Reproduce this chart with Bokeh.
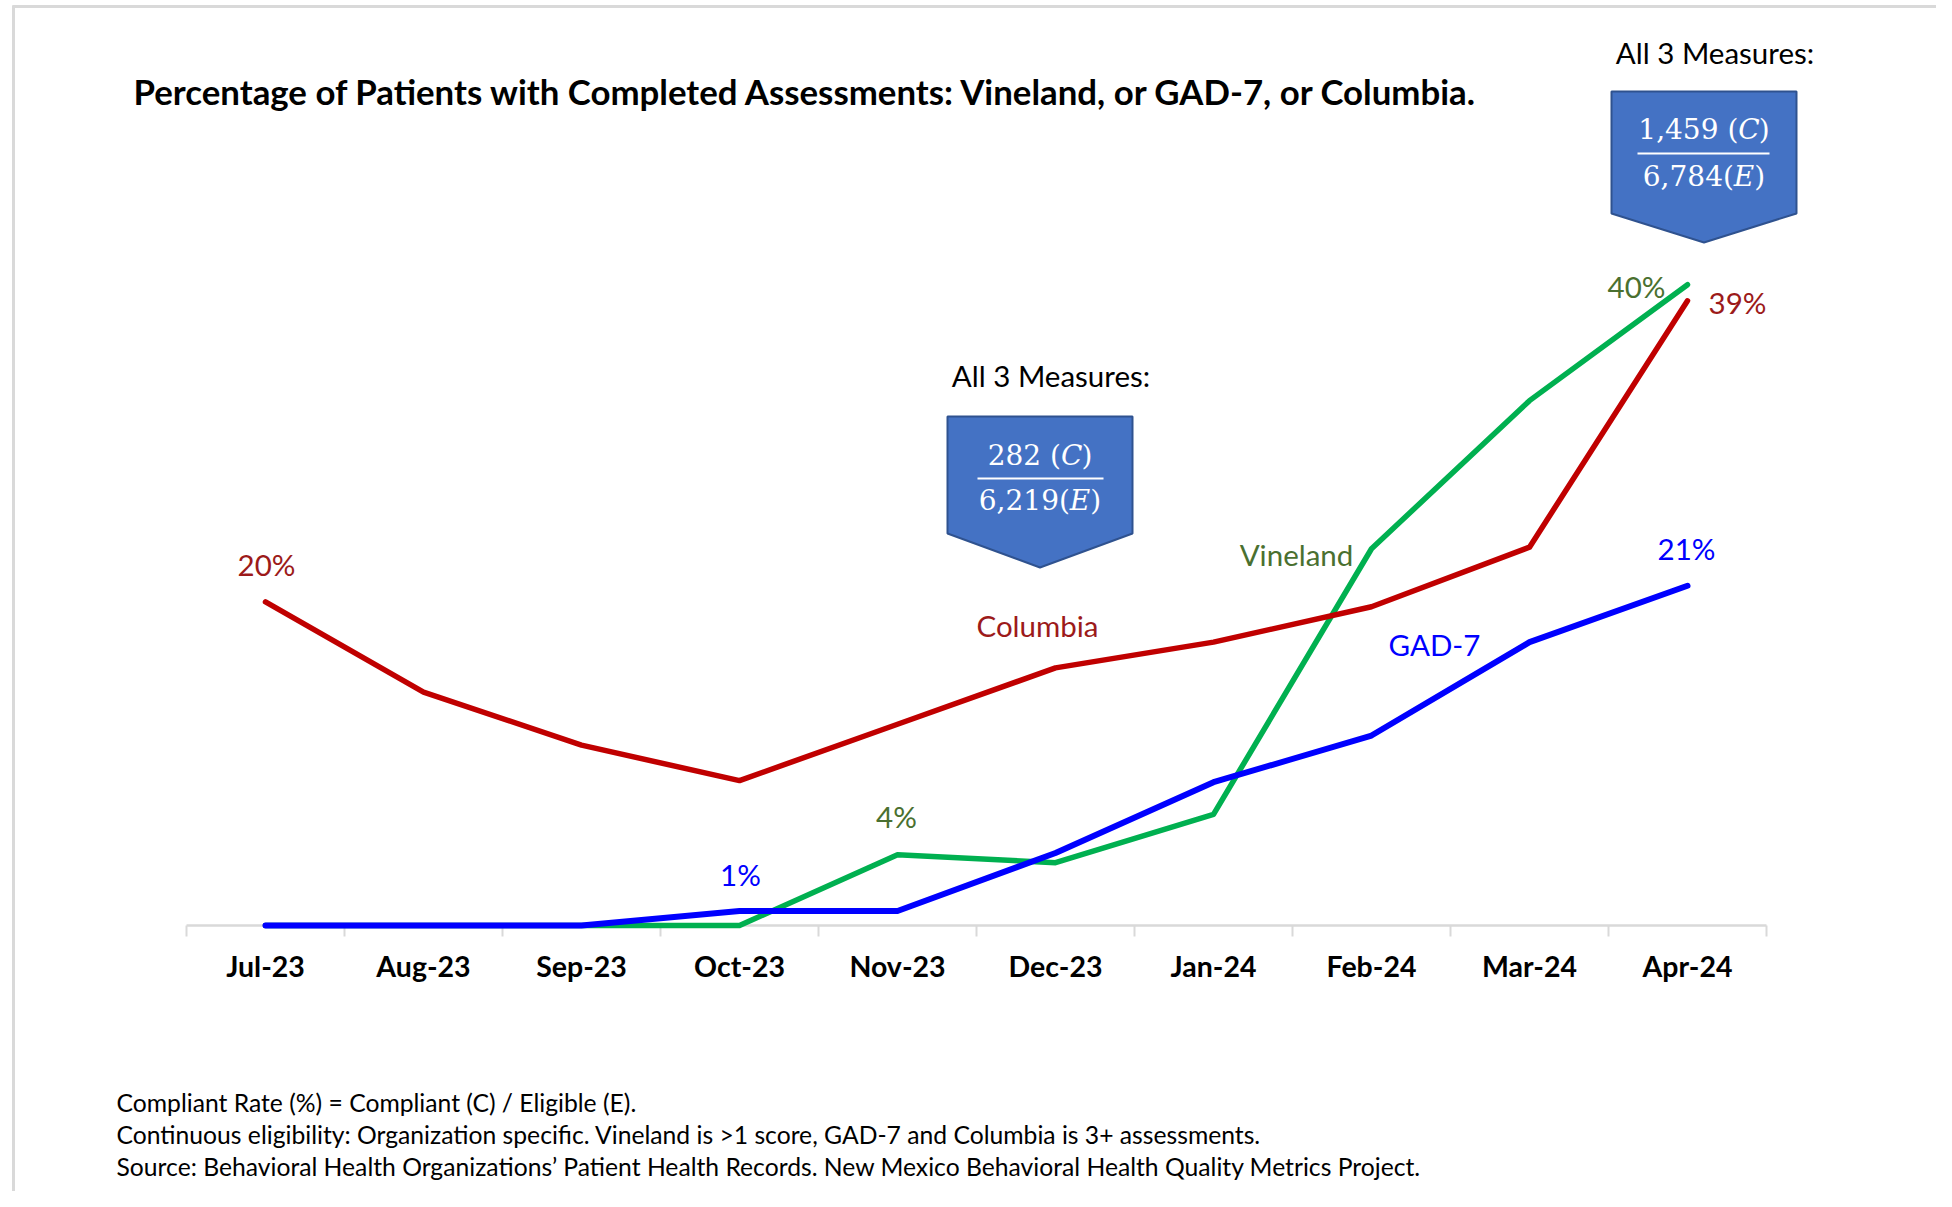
from bokeh.plotting import figure
from bokeh.models import Range1d, FactorRange, ColumnDataSource
from bokeh.core.properties import value
from bokeh.embed import file_html
from bokeh.resources import INLINE

# ---------------- data ----------------
months = ["Jul-23", "Aug-23", "Sep-23", "Oct-23", "Nov-23",
          "Dec-23", "Jan-24", "Feb-24", "Mar-24", "Apr-24"]
columbia = [20.1, 14.5, 11.2, 9.0, 12.5, 16.0, 17.6, 19.8, 23.5, 38.8]
vineland = [0.0, 0.0, 0.0, 0.0, 4.4, 3.9, 6.9, 23.4, 32.6, 39.8]
gad7 = [0.0, 0.0, 0.0, 0.9, 0.9, 4.5, 8.9, 11.8, 17.6, 21.1]

title_text = "Percentage of Patients with Completed Assessments: Vineland, or GAD-7, or Columbia."
callout_title = "All 3 Measures:"
callout_mid = ("282", "6,219")
callout_top = ("1,459", "6,784")
footnotes = [
    "Compliant Rate (%) = Compliant (C) / Eligible (E).",
    "Continuous eligibility: Organization specific. Vineland is >1 score, GAD-7 and Columbia is 3+ assessments.",
    "Source: Behavioral Health Organizations\u2019 Patient Health Records. New Mexico Behavioral Health Quality Metrics Project.",
]

# ---------------- layout ----------------
W, H = 1936, 1191
LEFT_BORDER = 16        # canvas x where the plotting frame starts
CAT_PX = 158.0          # pixels per category
PCT_PX = 16.1           # pixels per percentage point
BASE_Y = 925            # canvas y of the 0 line
n = len(months)
X0 = 186.0              # canvas x of the left edge of the first category
pad = (X0 - LEFT_BORDER) / CAT_PX

ymax = BASE_Y / PCT_PX
ymin = ymax - H / PCT_PX

def sx(px):
    return (px - X0) / CAT_PX

def sy(py):
    return (BASE_Y - py) / PCT_PX

p = figure(width=W, height=H, output_backend="svg", toolbar_location=None,
           x_range=FactorRange(factors=months, range_padding=pad, range_padding_units="absolute"),
           y_range=Range1d(ymin, ymax),
           x_axis_location=None, y_axis_location=None,
           min_border=0, min_border_left=LEFT_BORDER,
           background_fill_color="white", border_fill_color="white")
p.outline_line_color = None
p.grid.visible = False

SANS = value("Lato")
SERIF = value("DejaVu Serif")

RED, RED_T = "#C00000", "#9C1A1A"
GREEN, GREEN_T = "#00B050", "#4A7030"
BLUE, BLUE_T = "#0000FF", "#0000FF"
GRAY = "#D9D9D9"

# frame border (light gray)
p.segment(x0=[sx(12)], y0=[sy(6)], x1=[sx(1960)], y1=[sy(6)], line_color=GRAY, line_width=3,
          level="overlay")
p.segment(x0=[sx(13)], y0=[sy(5)], x1=[sx(13)], y1=[sy(1210)], line_color=GRAY, line_width=3,
          level="overlay")

# category axis
p.segment(x0=[0], y0=[0], x1=[n], y1=[0], line_color=GRAY, line_width=2.5)
bounds = list(range(n + 1))
p.segment(x0=bounds, y0=[0] * (n + 1), x1=bounds, y1=[-11 / PCT_PX] * (n + 1),
          line_color=GRAY, line_width=2)
p.text(x=months, y=[0] * n, text=months, y_offset=40, text_align="center",
       text_baseline="middle", text_font=SANS, text_font_size="28.5px",
       text_font_style="bold", text_color="black")

# series
src = ColumnDataSource(dict(m=months, col=columbia, vin=vineland, gad=gad7))
p.line(x="m", y="vin", source=src, line_color=GREEN, line_width=5.5, line_join="round", line_cap="round")
p.line(x="m", y="col", source=src, line_color=RED, line_width=5.5, line_join="round", line_cap="round")
p.line(x="m", y="gad", source=src, line_color=BLUE, line_width=6, line_join="round", line_cap="round")

LBL = "29.5px"

def dlabel(series, idx, color, dx, dy):
    p.text(x=[months[idx]], y=[series[idx]], text=["%.0f%%" % series[idx]],
           x_offset=dx, y_offset=dy, text_align="center", text_baseline="middle",
           text_font=SANS, text_font_size=LBL, text_color=color)

dlabel(columbia, 0, RED_T, 1, -37)
dlabel(columbia, 9, RED_T, 50, 2)
dlabel(vineland, 9, GREEN_T, -51, 2)
dlabel(vineland, 4, GREEN_T, -1, -38)
dlabel(gad7, 3, BLUE_T, 1, -37)
dlabel(gad7, 9, BLUE_T, -1, -37)

def free_text(px, py, txt, color="black", size=LBL, align="center", style="normal", font=SANS):
    p.text(x=[sx(px)], y=[sy(py)], text=[txt], text_align=align, text_baseline="middle",
           text_font=font, text_font_size=size, text_color=color, text_font_style=style)

free_text(1037, 625, "Columbia", RED_T)
free_text(1296, 554, "Vineland", GREEN_T)
free_text(1434, 644, "GAD-7", BLUE_T)

# title
free_text(133, 91, title_text, "black", "34.8px", "left", "bold")

# callouts
FS = 28
W_CH = {"0": .636, "1": .636, "2": .636, "3": .636, "4": .636, "5": .636, "6": .636,
        "7": .636, "8": .636, "9": .636, ",": .318, " ": .318, "(": .390, ")": .390}

def tw(s):
    return sum(W_CH.get(c, .6) for c in s) * FS

def fraction_part(cx, cy, lead, letter):
    w_lead = tw(lead)
    w_let = 0.73 * FS
    w_par = tw(")")
    x0 = cx - (w_lead + w_let + w_par) / 2.0
    for txt, off, style in ((lead, 0, "normal"), (letter, w_lead, "italic"), (")", w_lead + w_let, "normal")):
        p.text(x=[sx(x0 + off)], y=[sy(cy)], text=[txt], text_align="left", text_baseline="middle",
               text_font=SERIF, text_font_size="%dpx" % FS, text_color="white", text_font_style=style)

def callout(left, right, top, bottom, tip, head_y, nums, num_y, line_y, den_y, l0, l1):
    cx = (left + right) / 2.0
    xs = [sx(v) for v in (left, right, right, cx, left)]
    ys = [sy(v) for v in (top, top, bottom, tip, bottom)]
    p.patch(x=xs, y=ys, fill_color="#4472C4", line_color="#2F528F", line_width=2)
    free_text(cx + 11, head_y, callout_title, "black", LBL)
    fraction_part(cx, num_y, nums[0] + " (", "C")
    fraction_part(cx, den_y, nums[1] + "(", "E")
    p.segment(x0=[sx(l0)], y0=[sy(line_y)], x1=[sx(l1)], y1=[sy(line_y)], line_color="white", line_width=2)

callout(947, 1132, 416, 533, 567, 375, callout_mid, 455, 478, 500, 977, 1103)
callout(1611, 1796, 91, 213, 242, 52, callout_top, 129, 153, 176, 1637, 1769)

# footnotes
for i, t in enumerate(footnotes):
    free_text(116, 1102 + 32 * i, t, "black", "24.7px", "left")

open("out.html", "w").write(file_html(p, INLINE))
